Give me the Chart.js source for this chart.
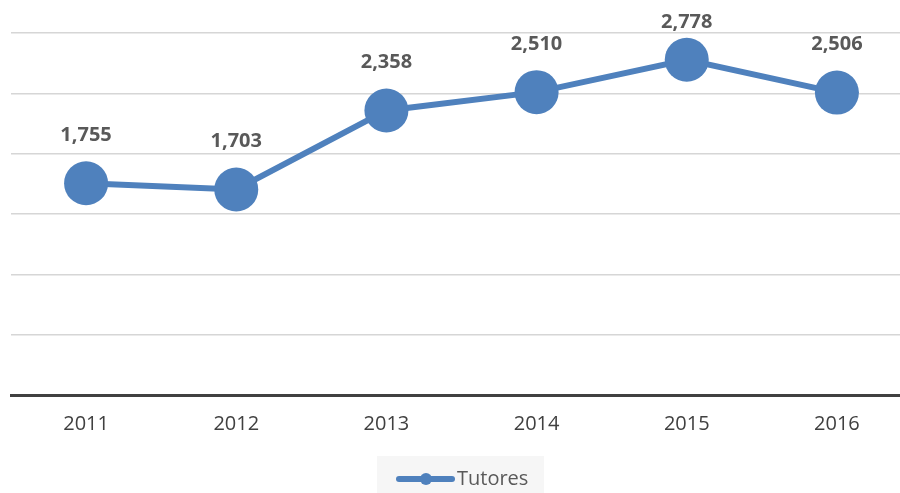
<!DOCTYPE html>
<html>
<head>
<meta charset="utf-8">
<script src="https://cdn.jsdelivr.net/npm/chart.js@4/dist/chart.umd.min.js"></script>
<style>
  html, body { margin: 0; padding: 0; background: #fff; overflow: hidden; }
  #wrap { width: 912px; height: 493px; }
</style>
</head>
<body>
<div id="wrap"><canvas id="grafico" width="912" height="493"></canvas></div>
<script>
// datos del grafico
const anios = ['2011', '2012', '2013', '2014', '2015', '2016'];
const tutores = [1755, 1703, 2358, 2510, 2778, 2506];
const nombreSerie = 'Tutores';

const azul = '#4f81bd';
const grisTexto = '#595959';

// etiquetas de valor encima de cada punto (sin salirse por arriba)
const pluginEtiquetas = {
    id: 'etiquetas',
    afterDatasetsDraw(chart) {
        const ctx = chart.ctx;
        const meta = chart.getDatasetMeta(0);
        ctx.save();
        ctx.font = 'bold 20px "Open Sans"';
        ctx.fillStyle = grisTexto;
        ctx.textAlign = 'center';
        ctx.textBaseline = 'middle';
        meta.data.forEach(function (p, i) {
            const y = Math.max(p.y - 48, 22);
            ctx.fillText(tutores[i].toLocaleString('en-US'), p.x, y);
        });
        ctx.restore();
    }
};

// leyenda con fondo gris, dibujada a mano
const pluginLeyenda = {
    id: 'leyendaCaja',
    afterDraw(chart) {
        const ctx = chart.ctx;
        ctx.save();
        ctx.fillStyle = '#f6f6f6';
        ctx.fillRect(377, 456, 167, 40);
        ctx.strokeStyle = azul;
        ctx.lineWidth = 6;
        ctx.lineCap = 'round';
        ctx.beginPath();
        ctx.moveTo(399, 479);
        ctx.lineTo(452, 479);
        ctx.stroke();
        ctx.fillStyle = azul;
        ctx.beginPath();
        ctx.arc(426, 479, 6, 0, Math.PI * 2);
        ctx.fill();
        ctx.font = '20px "Open Sans"';
        ctx.fillStyle = grisTexto;
        ctx.textBaseline = 'middle';
        ctx.fillText(nombreSerie, 457, 479);
        ctx.restore();
    }
};

new Chart(document.getElementById('grafico'), {
    type: 'line',
    data: {
        labels: anios,
        datasets: [{
            label: nombreSerie,
            data: tutores,
            borderColor: azul,
            backgroundColor: azul,
            borderWidth: 6,
            pointRadius: 22,
            pointHoverRadius: 22,
            pointBackgroundColor: azul,
            pointBorderWidth: 0,
            tension: 0,
            clip: false
        }]
    },
    options: {
        responsive: false,
        animation: false,
        layout: { autoPadding: false, padding: { left: 11, top: 33, right: 0, bottom: 0 } },
        plugins: { legend: { display: false }, tooltip: { enabled: false } },
        scales: {
            x: {
                offset: true,
                grid: { display: false, drawTicks: false },
                border: { display: true, color: '#404040', width: 3 },
                ticks: { color: '#404040', font: { family: 'Open Sans', size: 20 }, padding: 17 },
                afterFit(scale) { scale.height = 98; }
            },
            y: {
                min: 0,
                max: 3000,
                ticks: { display: false, stepSize: 500 },
                border: { display: false },
                grid: {
                    drawTicks: false,
                    lineWidth: 1.5,
                    color: function (c) { return c.tick && c.tick.value === 0 ? 'rgba(0,0,0,0)' : '#d6d6d6'; }
                },
                afterFit(scale) { scale.width = 0; }
            }
        }
    },
    plugins: [pluginEtiquetas, pluginLeyenda]
});
</script>
</body>
</html>
